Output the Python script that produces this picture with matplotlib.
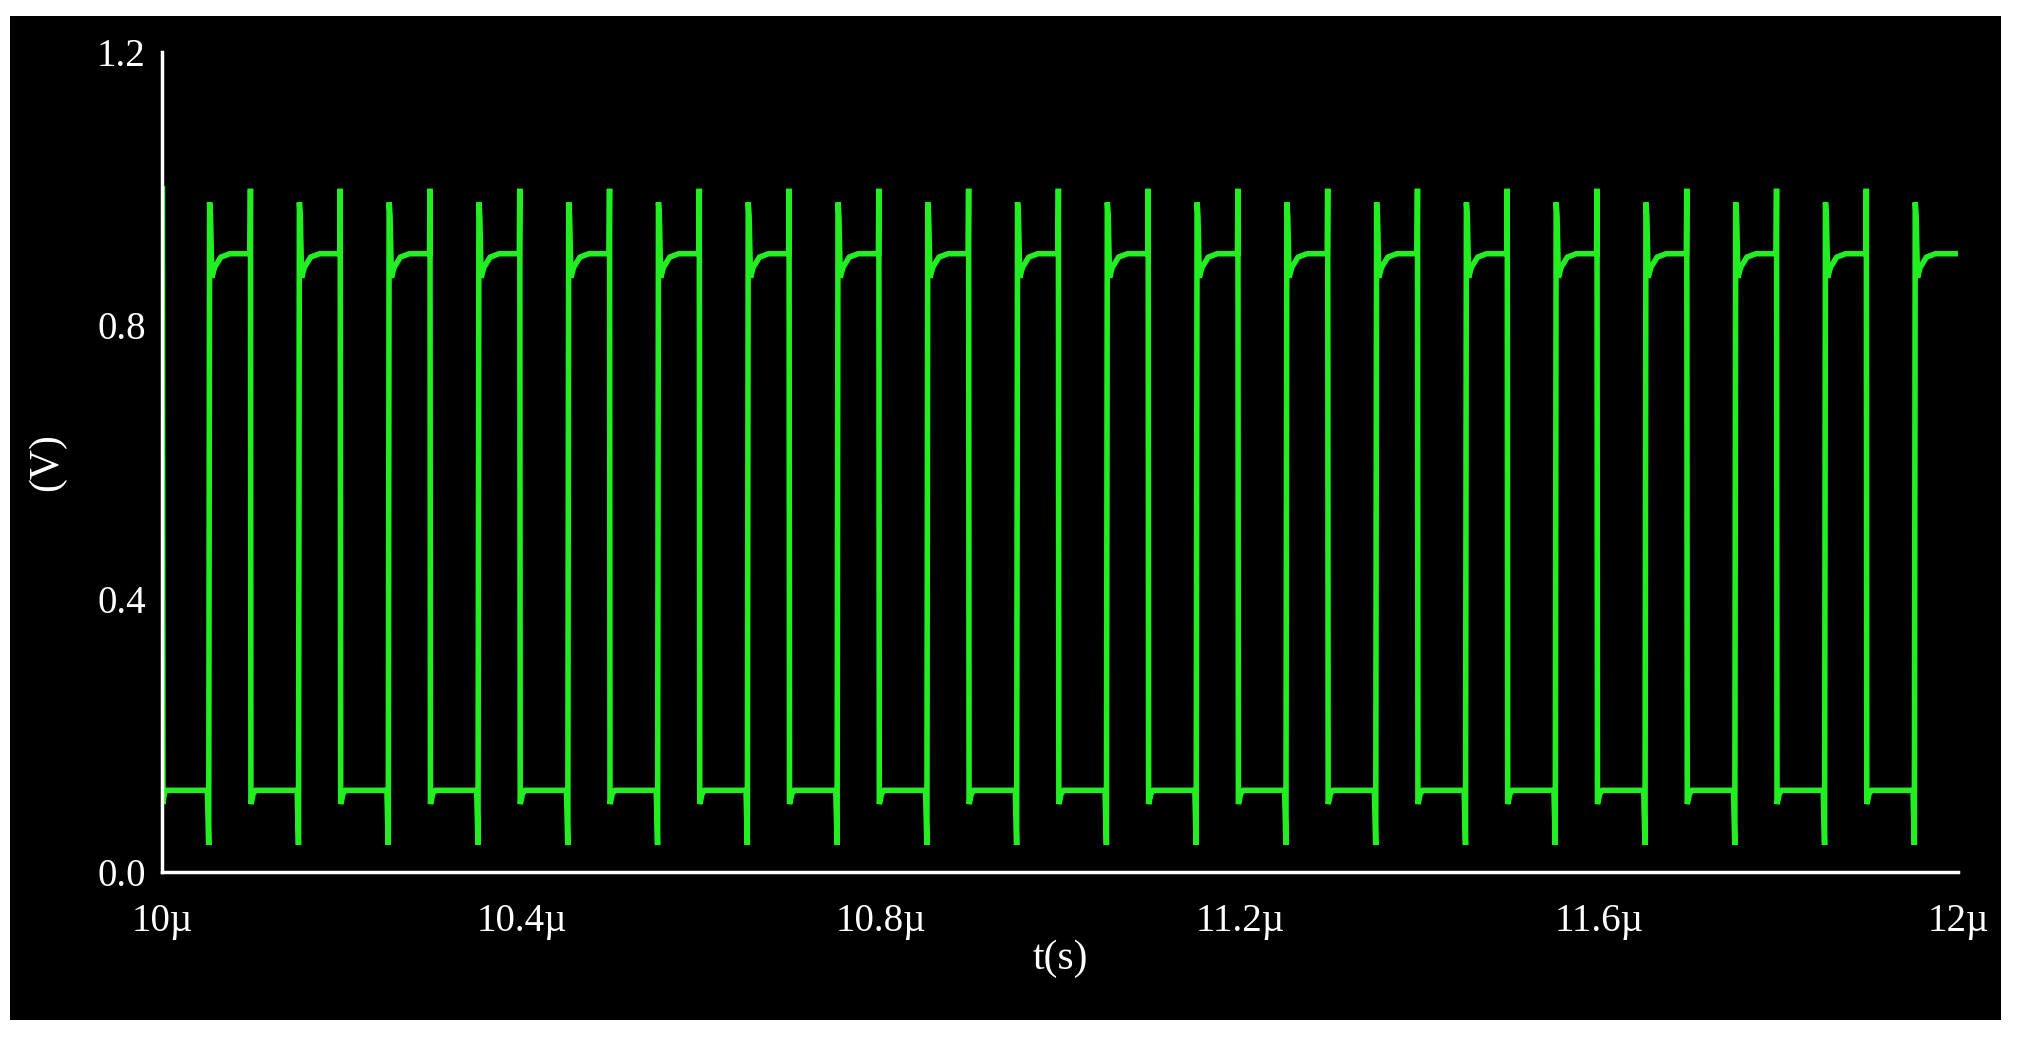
import matplotlib
matplotlib.use("Agg")
import matplotlib.pyplot as plt
from matplotlib.patches import Rectangle
import numpy as np

# waveform: one period template (offset in µs from period start, volts)
period_us = 0.1
n_periods = 20
t_start = 10.0
tmpl_t = [0.000, 0.050, 0.0515, 0.0525, 0.0535, 0.0550, 0.0580, 0.0650, 0.0750, 0.0975, 0.0980, 0.0985, 0.0995, 0.1010, 0.1040]
tmpl_v = [0.12, 0.12, 0.04, 0.98, 0.96, 0.87, 0.885, 0.90, 0.905, 0.905, 1.00, 0.10, 0.105, 0.115, 0.12]
start_t = [10.0, 10.0005, 10.0015, 10.003]
start_v = [1.0, 0.10, 0.11, 0.12]
end_t = [12.0]
end_v = [0.905]

xticks = [10.0, 10.4, 10.8, 11.2, 11.6, 12.0]
xlabels = ["10µ", "10.4µ", "10.8µ", "11.2µ", "11.6µ", "12µ"]
yticks = [0.0, 0.4, 0.8, 1.2]
ylabels = ["0.0", "0.4", "0.8", "1.2"]

t = list(start_t)
v = list(start_v)
for k in range(n_periods):
    base = t_start + k * period_us
    for dt, vv in zip(tmpl_t, tmpl_v):
        tt = base + dt
        if tt > t[-1] and tt < 11.99:
            t.append(tt); v.append(vv)
t += end_t; v += end_v

plt.rcParams['font.family'] = ['Liberation Serif', 'DejaVu Serif']
fig = plt.figure(figsize=(20.31, 10.41), dpi=100, facecolor='white')
fig.patches.append(Rectangle((0.005, 0.02), 0.98, 0.965, transform=fig.transFigure,
                             facecolor='black', edgecolor='none', zorder=-10))
ax = fig.add_axes([0.080, 0.162, 0.884, 0.788])
ax.set_facecolor('black')
ax.plot(t, v, color='#22ee22', lw=4.0, solid_joinstyle='miter')
ax.set_xlim(10.0, 12.0)
ax.set_ylim(0.0, 1.2)
ax.set_xticks(xticks); ax.set_xticklabels(xlabels)
ax.set_yticks(yticks); ax.set_yticklabels(ylabels)
for s in ['top', 'right']:
    ax.spines[s].set_visible(False)
for s in ['left', 'bottom']:
    ax.spines[s].set_color('white'); ax.spines[s].set_linewidth(2.5)
ax.tick_params(colors='white', labelsize=28, length=0)
ax.tick_params(axis='x', pad=22)
ax.tick_params(axis='y', pad=12)
ax.set_xlabel('t(s)', color='white', fontsize=30, labelpad=0)
ax.set_ylabel('(V)', color='white', fontsize=30, labelpad=22)
fig.savefig('out.png', dpi=100, facecolor='white')
